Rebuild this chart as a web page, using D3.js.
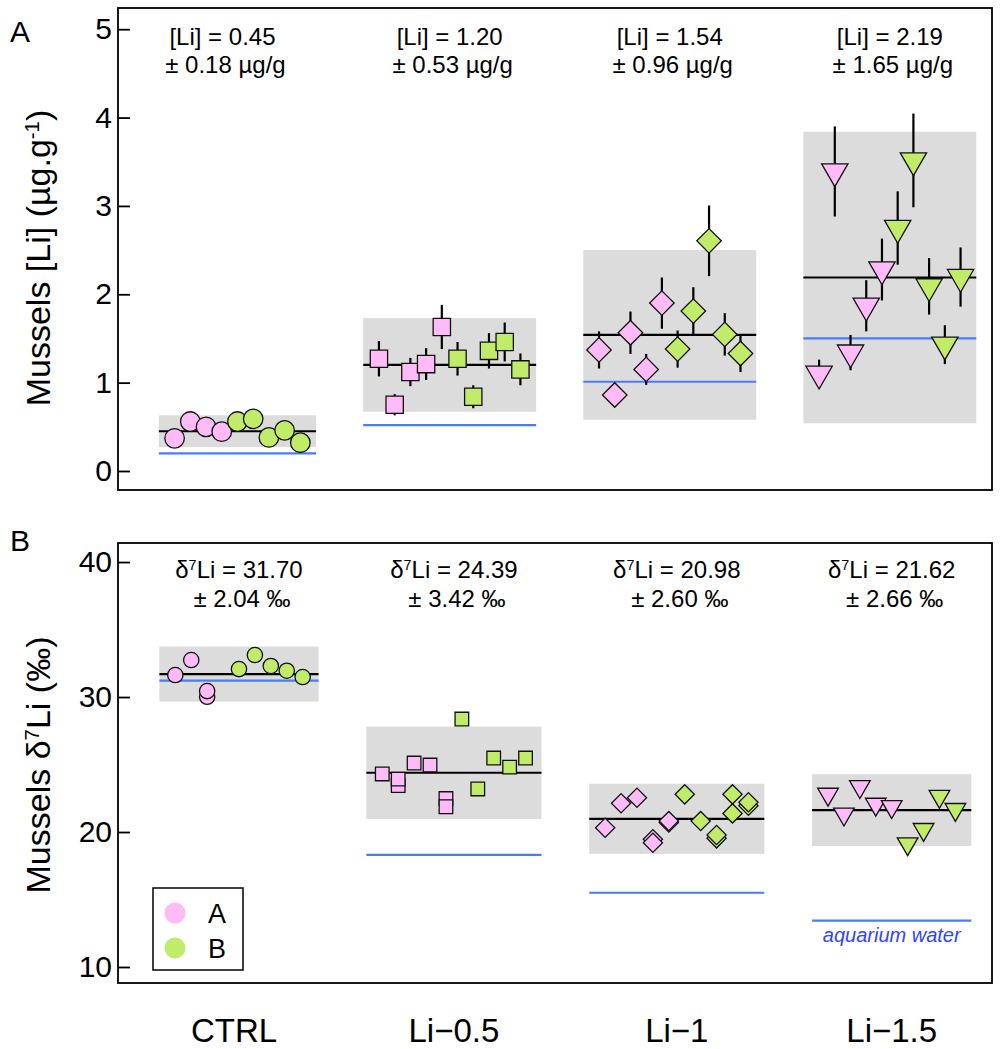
<!DOCTYPE html>
<html>
<head>
<meta charset="utf-8">
<script src="https://cdn.jsdelivr.net/npm/d3@7"></script>
<style>
  body { margin: 0; background: #fff; }
  text { font-family: "Liberation Sans", Arial, sans-serif; }
</style>
</head>
<body>
<div id="chart"></div>
<script>
// ---- data -------------------------------------------------------------
var groups = ["CTRL", "Li\u22120.5", "Li\u22121", "Li\u22121.5"];
var tankNames = ["A", "B"];

// panel A : [Li] in mussels (µg/g), one entry per mussel, x = sample number
var liSample = [
  [1, 2, 3, 4, 5, 6, 7, 8, 9],
  [14, 15, 16, 17, 18, 19, 20, 21, 22, 23],
  [28, 29, 30, 31, 32, 33, 34, 35, 36, 37],
  [42, 43, 44, 45, 46, 47, 48, 49, 50, 51]
];
var liTank = [
  ["A", "A", "A", "A", "B", "B", "B", "B", "B"],
  ["A", "A", "A", "A", "A", "B", "B", "B", "B", "B"],
  ["A", "A", "A", "A", "A", "B", "B", "B", "B", "B"],
  ["A", "A", "A", "A", "A", "B", "B", "B", "B", "B"]
];
var liValue = [
  [0.37, 0.56, 0.50, 0.445, 0.56, 0.59, 0.38, 0.46, 0.32],
  [1.27, 0.75, 1.12, 1.21, 1.63, 1.27, 0.84, 1.36, 1.46, 1.15],
  [1.37, 0.86, 1.565, 1.15, 1.90, 1.38, 1.81, 2.605, 1.546, 1.33],
  [1.10, 3.39, 1.34, 1.87, 2.28, 2.75, 3.515, 2.09, 1.43, 2.195]
];
var liErr = [
  [0.04, 0.04, 0.04, 0.04, 0.04, 0.04, 0.04, 0.04, 0.04],
  [0.20, 0.12, 0.16, 0.18, 0.25, 0.19, 0.13, 0.20, 0.22, 0.18],
  [0.21, 0.13, 0.24, 0.175, 0.29, 0.21, 0.27, 0.40, 0.24, 0.21],
  [0.16, 0.51, 0.20, 0.29, 0.35, 0.415, 0.53, 0.32, 0.22, 0.335]
];
var liMean = [0.45, 1.20, 1.54, 2.19];
var liSd = [0.18, 0.53, 0.96, 1.65];
var liWater = [0.20, 0.52, 1.01, 1.50];
var liTicks = [0, 1, 2, 3, 4, 5];

// panel B : d7Li in mussels (permil)
var d7Sample = [
  [1, 2, 3, 3, 5, 6, 7, 8, 9],
  [14, 15, 15, 16, 17, 18, 18, 19, 20, 21, 22, 23],
  [28, 29, 30, 31, 31, 32, 32, 33, 34, 35, 35, 36, 36, 37, 37],
  [42, 43, 44, 45, 46, 47, 48, 49, 50]
];
var d7Tank = [
  ["A", "A", "A", "A", "B", "B", "B", "B", "B"],
  ["A", "A", "A", "A", "A", "A", "A", "B", "B", "B", "B", "B"],
  ["A", "A", "A", "A", "A", "A", "A", "B", "B", "B", "B", "B", "B", "B", "B"],
  ["A", "A", "A", "A", "A", "B", "B", "B", "B"]
];
var d7Value = [
  [31.63, 32.74, 30.02, 30.44, 32.07, 33.11, 32.30, 31.95, 31.48],
  [24.30, 23.44, 23.92, 25.11, 24.96, 22.48, 21.87, 28.37, 23.19, 25.48, 24.81, 25.48],
  [20.32, 22.13, 22.54, 19.46, 19.21, 20.70, 20.81, 22.79, 20.81, 19.53, 19.78, 22.79, 21.38, 21.95, 22.20],
  [22.80, 21.33, 23.37, 22.06, 21.88, 19.13, 20.19, 22.64, 21.67]
];
var d7Mean = [31.70, 24.39, 20.98, 21.62];
var d7Sd = [2.04, 3.42, 2.60, 2.66];
var d7Water = [31.21, 18.30, 15.50, 13.43];
var d7Ticks = [10, 20, 30, 40];

// ---- setup ------------------------------------------------------------
var width = 1005, height = 1049;
var plotLeft = 118, plotRight = 992;

var svg = d3.select("#chart").append("svg")
  .attr("width", width)
  .attr("height", height);

var tankColor = d3.scaleOrdinal().domain(tankNames).range(["#ffbaf8", "#c1ec6a"]);
var shapes = ["circle", "square", "diamond", "triangle"];
var fmt = d3.format(".2f");

function markerPath(shape, area) {
  if (shape == "circle") return d3.symbol(d3.symbolCircle, area)();
  if (shape == "triangle") return d3.symbol(d3.symbolTriangle, area)();
  return d3.symbol(d3.symbolSquare, area)();
}
function markerRotate(shape) {
  if (shape == "diamond") return " rotate(45)";
  if (shape == "triangle") return " rotate(180)";
  return "";
}

function drawPanel(cfg) {
  var x = d3.scaleLinear().domain(cfg.xDomain).range([plotLeft, plotRight]);
  var y = d3.scaleLinear().domain(cfg.yDomain).range([cfg.bottom, cfg.top]);
  var g = svg.append("g");

  groups.forEach(function (name, gi) {
    var samples = cfg.sample[gi];
    var x0 = x(d3.min(samples) - 1), x1 = x(d3.max(samples) + 1);
    var mean = cfg.mean[gi], sd = cfg.sd[gi];

    g.append("rect")
      .attr("x", x0).attr("width", x1 - x0)
      .attr("y", y(mean + sd)).attr("height", y(mean - sd) - y(mean + sd))
      .attr("fill", "#dcdcdc");

    g.append("line")
      .attr("x1", x0).attr("x2", x1)
      .attr("y1", y(cfg.water[gi])).attr("y2", y(cfg.water[gi]))
      .attr("stroke", "#4a7bff").attr("stroke-width", 2.2);

    g.append("line")
      .attr("x1", x0).attr("x2", x1)
      .attr("y1", y(mean)).attr("y2", y(mean))
      .attr("stroke", "#000").attr("stroke-width", 2.2);

    var pts = samples.map(function (s, i) {
      return { s: s, v: cfg.value[gi][i], t: cfg.tank[gi][i], e: cfg.err ? cfg.err[gi][i] : 0 };
    });

    if (cfg.err) {
      g.selectAll(null).data(pts).enter().append("line")
        .attr("x1", function (d) { return x(d.s); })
        .attr("x2", function (d) { return x(d.s); })
        .attr("y1", function (d) { return y(d.v - d.e); })
        .attr("y2", function (d) { return y(d.v + d.e); })
        .attr("stroke", "#000").attr("stroke-width", 2.2);
    }

    var shape = shapes[gi];
    g.selectAll(null).data(pts).enter().append("path")
      .attr("d", markerPath(shape, cfg.area))
      .attr("transform", function (d) {
        return "translate(" + x(d.s) + "," + y(d.v) + ")" + markerRotate(shape);
      })
      .attr("fill", function (d) { return tankColor(d.t); })
      .attr("stroke", "#111").attr("stroke-width", 1.3);

    // summary text
    var cx = (x0 + x1) / 2 + (gi == 0 ? cfg.ctrlShift : 0);
    var t1 = g.append("text").attr("x", cx).attr("y", cfg.top + cfg.textY[0])
      .attr("text-anchor", "middle").attr("font-size", 24);
    cfg.line1(t1, mean);
    g.append("text").attr("x", cx + 3).attr("y", cfg.top + cfg.textY[1])
      .attr("text-anchor", "middle").attr("font-size", 24)
      .text("\u00b1 " + fmt(sd) + cfg.unit);

    if (cfg.labels) {
      svg.append("text").attr("x", (x0 + x1) / 2 - (gi == 0 ? 5 : 0)).attr("y", 1042)
        .attr("text-anchor", "middle").attr("font-size", 33)
        .text(name);
    }
    if (cfg.waterLabel && gi == groups.length - 1) {
      g.append("text").attr("x", (x0 + x1) / 2).attr("y", y(cfg.water[gi]) + 21)
        .attr("text-anchor", "middle").attr("font-size", 20)
        .attr("font-style", "italic").attr("fill", "#2f45ff")
        .text("aquarium water");
    }
  });

  // frame
  g.append("rect")
    .attr("x", plotLeft).attr("y", cfg.top)
    .attr("width", plotRight - plotLeft).attr("height", cfg.bottom - cfg.top)
    .attr("fill", "none").attr("stroke", "#000").attr("stroke-width", 1.8);

  var axis = g.append("g")
    .attr("transform", "translate(" + plotLeft + ",0)")
    .call(d3.axisLeft(y).tickValues(cfg.ticks).tickFormat(d3.format("d"))
      .tickSize(-12).tickPadding(6));
  axis.select(".domain").remove();
  axis.selectAll(".tick line").attr("stroke-width", 1.8);
  axis.selectAll(".tick text")
    .attr("font-size", 30).attr("fill", "#000")
    .attr("font-family", "Liberation Sans, Arial, sans-serif");

  var yt = g.append("text")
    .attr("transform", "translate(50," + cfg.titleY + ") rotate(-90)")
    .attr("text-anchor", "middle").attr("font-size", 34);
  cfg.title(yt);

  g.append("text").attr("x", 10).attr("y", cfg.letterY)
    .attr("font-size", 30).text(cfg.letter);
}

function sup(sel, s) {
  sel.append("tspan").attr("baseline-shift", "super").attr("font-size", "0.6em").text(s);
}

drawPanel({
  top: 8, bottom: 490,
  xDomain: [-2.6, 53.0], yDomain: [-0.215, 5.24],
  sample: liSample, tank: liTank, value: liValue, err: liErr,
  mean: liMean, sd: liSd, water: liWater, ticks: liTicks,
  area: 300, textY: [37, 65], unit: " \u00b5g/g", ctrlShift: -15,
  line1: function (t, m) { t.text("[Li] = " + fmt(m)); },
  title: function (t) {
    t.append("tspan").text("Mussels [Li] (\u00b5g.g");
    sup(t, "-1");
    t.append("tspan").text(")");
  },
  titleY: 258, letter: "A", letterY: 42
});

drawPanel({
  top: 543, bottom: 983,
  xDomain: [-2.6, 52.3], yDomain: [8.815, 41.41],
  sample: d7Sample, tank: d7Tank, value: d7Value, err: null,
  mean: d7Mean, sd: d7Sd, water: d7Water, ticks: d7Ticks,
  area: 185, textY: [35, 64], unit: " \u2030", ctrlShift: 0,
  line1: function (t, m) {
    t.append("tspan").text("\u03b4");
    sup(t, "7");
    t.append("tspan").text("Li = " + fmt(m));
  },
  title: function (t) {
    t.append("tspan").text("Mussels \u03b4");
    sup(t, "7");
    t.append("tspan").text("Li (\u2030)");
  },
  titleY: 765, letter: "B", letterY: 551,
  labels: true, waterLabel: true
});

// legend
var legend = svg.append("g");
legend.append("rect")
  .attr("x", 153).attr("y", 888).attr("width", 90).attr("height", 82)
  .attr("fill", "#fff").attr("stroke", "#000").attr("stroke-width", 1.5);
tankNames.forEach(function (t, i) {
  legend.append("circle").attr("cx", 175).attr("cy", 913 + i * 35).attr("r", 10.5)
    .attr("fill", tankColor(t));
  legend.append("text").attr("x", 208).attr("y", 923 + i * 35)
    .attr("font-size", 27).text(t);
});
</script>
</body>
</html>
